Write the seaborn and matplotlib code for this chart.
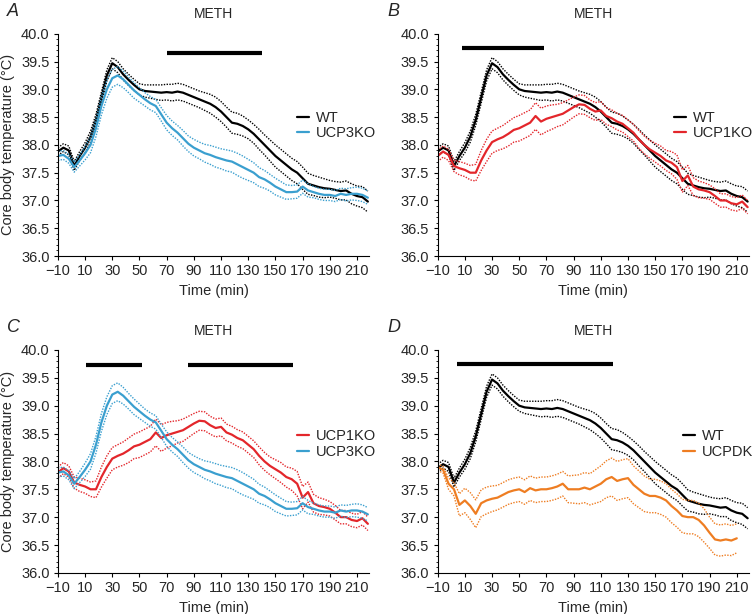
import seaborn as sns
import pandas as pd
import matplotlib.pyplot as plt
import numpy as np
from matplotlib.ticker import MultipleLocator

# time grid (min)
time = list(range(-10, 219, 4))

# mean core body temperature (C)
wt_mean = [37.88, 37.95, 37.90, 37.62, 37.80, 37.95, 38.15, 38.45, 38.85, 39.25, 39.47, 39.40, 39.27, 39.17, 39.08,
           39.00, 38.97, 38.96, 38.95, 38.94, 38.95, 38.94, 38.96, 38.94, 38.90, 38.86, 38.82, 38.78, 38.74, 38.68,
           38.60, 38.50, 38.40, 38.38, 38.34, 38.28, 38.20, 38.10, 38.00, 37.90, 37.80, 37.72, 37.64, 37.56, 37.50,
           37.40, 37.30, 37.27, 37.24, 37.22, 37.21, 37.19, 37.17, 37.18, 37.12, 37.08, 37.06, 36.98]
ucp3_mean = [37.80, 37.82, 37.75, 37.60, 37.72, 37.85, 38.00, 38.30, 38.70, 39.00, 39.20, 39.25, 39.18, 39.08, 38.98,
             38.90, 38.82, 38.75, 38.70, 38.55, 38.40, 38.30, 38.22, 38.12, 38.02, 37.95, 37.90, 37.85, 37.82, 37.78,
             37.75, 37.72, 37.70, 37.65, 37.60, 37.55, 37.50, 37.42, 37.38, 37.32, 37.25, 37.20, 37.15, 37.15, 37.16,
             37.25, 37.18, 37.15, 37.12, 37.10, 37.10, 37.08, 37.12, 37.10, 37.12, 37.12, 37.10, 37.05]
ucp1_mean = [37.80, 37.88, 37.82, 37.62, 37.58, 37.55, 37.50, 37.50, 37.72, 37.90, 38.05, 38.10, 38.14, 38.20, 38.27,
             38.30, 38.35, 38.40, 38.52, 38.42, 38.47, 38.50, 38.53, 38.56, 38.62, 38.68, 38.73, 38.72, 38.65, 38.60,
             38.62, 38.52, 38.48, 38.42, 38.38, 38.30, 38.22, 38.10, 38.00, 37.92, 37.86, 37.80, 37.72, 37.68, 37.60,
             37.35, 37.45, 37.25, 37.20, 37.18, 37.15, 37.08, 37.00, 37.00, 36.95, 36.93, 36.98, 36.88]
ucpdk_mean = [37.90, 37.85, 37.60, 37.50, 37.22, 37.30, 37.20, 37.06, 37.25, 37.30, 37.33, 37.35, 37.40, 37.45, 37.48,
              37.50, 37.45, 37.52, 37.48, 37.50, 37.50, 37.52, 37.55, 37.60, 37.50, 37.50, 37.50, 37.53, 37.50, 37.55,
              37.60, 37.68, 37.72, 37.65, 37.68, 37.70, 37.58, 37.50, 37.42, 37.38, 37.38, 37.35, 37.30, 37.20, 37.12,
              37.02, 37.00, 37.00, 36.95, 36.85, 36.72, 36.60, 36.58, 36.60, 36.58, 36.62, np.nan, np.nan]

# SEM half-widths (dotted lines)
wt_sem = [0.07, 0.07, 0.08, 0.08, 0.08, 0.09, 0.10, 0.10, 0.10, 0.10, 0.10, 0.10, 0.10, 0.10, 0.10,
          0.10, 0.11, 0.12, 0.13, 0.14, 0.14, 0.15, 0.15, 0.15, 0.15, 0.15, 0.15, 0.16, 0.17, 0.18,
          0.18, 0.18, 0.19, 0.19, 0.18, 0.17, 0.17, 0.18, 0.18, 0.19, 0.20, 0.20, 0.20, 0.20, 0.20,
          0.20, 0.19, 0.18, 0.18, 0.17, 0.15, 0.15, 0.16, 0.17, 0.18, 0.18, 0.19, 0.19]
ucp3_sem = [0.08, 0.08, 0.08, 0.09, 0.10, 0.12, 0.14, 0.15, 0.16, 0.16, 0.16, 0.16, 0.15, 0.14, 0.14,
            0.13, 0.12, 0.12, 0.12, 0.12, 0.13, 0.13, 0.13, 0.14, 0.14, 0.15, 0.15, 0.16, 0.17, 0.18,
            0.18, 0.19, 0.19, 0.20, 0.20, 0.19, 0.18, 0.17, 0.16, 0.15, 0.15, 0.14, 0.13, 0.12, 0.12,
            0.12, 0.12, 0.10, 0.10, 0.10, 0.10, 0.10, 0.10, 0.11, 0.11, 0.12, 0.12, 0.12]
ucp1_sem = [0.10, 0.10, 0.10, 0.10, 0.12, 0.12, 0.13, 0.15, 0.18, 0.20, 0.20, 0.20, 0.21, 0.22, 0.22,
            0.23, 0.23, 0.23, 0.24, 0.24, 0.23, 0.22, 0.20, 0.20, 0.19, 0.18, 0.17, 0.17, 0.16, 0.16,
            0.16, 0.15, 0.15, 0.15, 0.15, 0.15, 0.15, 0.16, 0.16, 0.16, 0.17, 0.18, 0.18, 0.20, 0.22,
            0.20, 0.18, 0.16, 0.15, 0.14, 0.13, 0.13, 0.12, 0.12, 0.12, 0.12, 0.12, 0.12]
ucpdk_sem = [0.06, 0.06, 0.10, 0.12, 0.20, 0.22, 0.24, 0.25, 0.24, 0.24, 0.23, 0.22, 0.22, 0.22, 0.22,
             0.22, 0.22, 0.22, 0.22, 0.22, 0.22, 0.22, 0.22, 0.22, 0.24, 0.25, 0.26, 0.27, 0.28, 0.30,
             0.32, 0.33, 0.34, 0.35, 0.35, 0.35, 0.34, 0.33, 0.32, 0.30, 0.30, 0.30, 0.30, 0.30, 0.30,
             0.30, 0.30, 0.30, 0.30, 0.30, 0.28, 0.28, 0.28, 0.28, 0.27, 0.26, np.nan, np.nan]

groups = {
    "WT": (wt_mean, wt_sem, "#000000"),
    "UCP3KO": (ucp3_mean, ucp3_sem, "#3a9fcf"),
    "UCP1KO": (ucp1_mean, ucp1_sem, "#e3262b"),
    "UCPDK": (ucpdk_mean, ucpdk_sem, "#ee7d22"),
}

panels = ["A", "B", "C", "D"]
panel_groups = [["WT", "UCP3KO"], ["WT", "UCP1KO"], ["UCP1KO", "UCP3KO"], ["WT", "UCPDK"]]
# significance bars (start, end, y)
sig_bars = [[(70, 140, 39.66)], [(8, 68, 39.75)], [(11, 52, 39.73), (86, 163, 39.73)], [(4, 119, 39.75)]]

sns.set_theme(style="ticks")
plt.rcParams["font.family"] = ["Liberation Sans", "DejaVu Sans"]

fig = plt.figure(figsize=(7.52, 6.14), dpi=100)
positions = [[0.077, 0.583, 0.414, 0.362], [0.582, 0.583, 0.414, 0.362],
             [0.077, 0.067, 0.414, 0.363], [0.582, 0.067, 0.414, 0.363]]
legend_pos = [(0.75, 0.68), (0.74, 0.68), (0.75, 0.67), (0.77, 0.67)]

for i, p in enumerate(panels):
    ax = fig.add_axes(positions[i])
    for g in panel_groups[i]:
        m, s, c = groups[g]
        df = pd.DataFrame({"time": time, "mean": m, "sem": s})
        df["up"] = df["mean"] + df["sem"]
        df["lo"] = df["mean"] - df["sem"]
        sns.lineplot(ax=ax, data=df, x="time", y="up", color=c, lw=1.0, ls=(0, (1, 1)), label="_nolegend_")
        sns.lineplot(ax=ax, data=df, x="time", y="lo", color=c, lw=1.0, ls=(0, (1, 1)), label="_nolegend_")
        sns.lineplot(ax=ax, data=df, x="time", y="mean", color=c, lw=1.6, label=g)
    for (x0, x1, yb) in sig_bars[i]:
        ax.plot([x0, x1], [yb, yb], color="black", lw=3, solid_capstyle="butt")

    ax.set_xlim(-10, 219)
    ax.set_ylim(36.0, 40.0)
    ax.set_xticks(range(-10, 211, 20))
    ax.set_xticklabels(["\u221210"] + [str(v) for v in range(10, 211, 20)])
    ax.set_yticks(np.arange(36.0, 40.01, 0.5))
    ax.set_yticklabels([f"{v:.1f}" for v in np.arange(36.0, 40.01, 0.5)])
    ax.yaxis.set_minor_locator(MultipleLocator(0.1))
    ax.tick_params(axis="both", which="major", labelsize=10.5, length=3, width=0.8, pad=3, color="black")
    ax.tick_params(axis="y", which="minor", length=1.5, width=0.6, color="black")
    sns.despine(ax=ax)
    for sp in ["left", "bottom"]:
        ax.spines[sp].set_color("black")
        ax.spines[sp].set_linewidth(0.8)

    ax.set_xlabel("Time (min)", fontsize=10.5, labelpad=4)
    if i in (0, 2):
        ax.set_ylabel("Core body temperature (\u00b0C)", fontsize=10.5, labelpad=4)
    else:
        ax.set_ylabel("")
    ax.set_title("METH", fontsize=10, pad=11)
    ax.text(-0.165 if i in (0, 2) else -0.16, 1.1, p, transform=ax.transAxes, fontsize=13,
            fontstyle="italic", ha="left", va="center")

    ax.legend(loc="upper left", bbox_to_anchor=legend_pos[i], frameon=False, fontsize=10.5,
              handlelength=0.8, handletextpad=0.5, labelspacing=0.1, borderaxespad=0)

fig.savefig("out.png", dpi=100)
